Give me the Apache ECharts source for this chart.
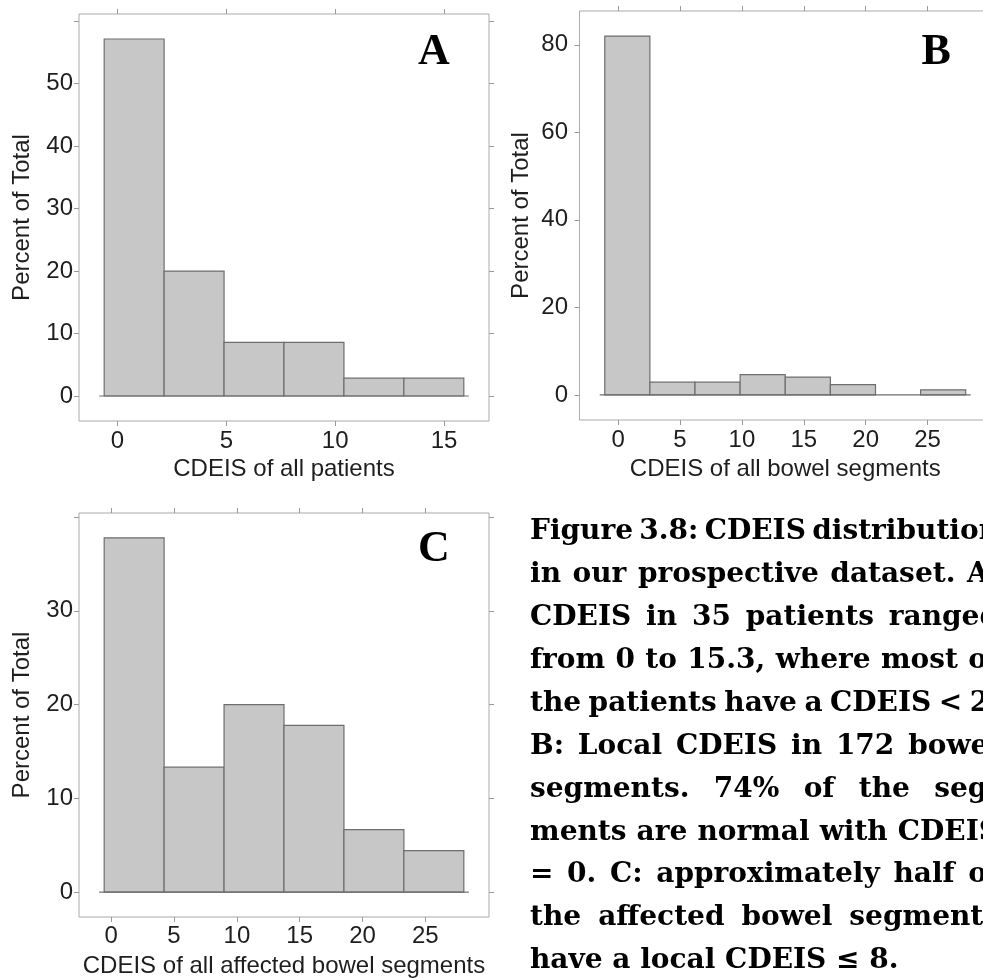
<!DOCTYPE html>
<html><head><meta charset="utf-8">
<script src="https://cdn.jsdelivr.net/npm/echarts@6/dist/echarts.min.js"></script>
<style>html,body{margin:0;padding:0;background:#fff}#c{width:983px;height:978px}</style>
</head><body><div id="c"></div>
<script>
// ---------- DATA ----------
// Panel A: CDEIS of all patients (35 patients), percent of total per bin
const binEdgesA = [-0.612, 2.142, 4.896, 7.65, 10.404, 13.158, 15.912];
const percentA  = [57.14, 20.00, 8.57, 8.57, 2.86, 2.86];
const xTicksA   = [0, 5, 10, 15];
const yLabelsA  = [0, 10, 20, 30, 40, 50];
const yTicksA   = [0, 10, 20, 30, 40, 50, 60];

// Panel B: CDEIS of all bowel segments (172 segments)
const binEdgesB = [-1.08, 2.565, 6.21, 9.855, 13.5, 17.145, 20.79, 24.435, 28.08];
const percentB  = [81.98, 2.91, 2.91, 4.65, 4.07, 2.33, 0, 1.16];
const xTicksB   = [0, 5, 10, 15, 20, 25];
const yLabelsB  = [0, 20, 40, 60, 80];
const yTicksB   = [0, 20, 40, 60, 80];

// Panel C: CDEIS of all affected bowel segments
const binEdgesC = [-0.56, 4.21, 8.98, 13.75, 18.52, 23.29, 28.06];
const percentC  = [37.78, 13.33, 20.00, 17.78, 6.67, 4.44];
const xTicksC   = [0, 5, 10, 15, 20, 25];
const yLabelsC  = [0, 10, 20, 30];
const yTicksC   = [0, 10, 20, 30, 40];

const panelLetters = ['A', 'B', 'C'];
const xTitles = ['CDEIS of all patients', 'CDEIS of all bowel segments', 'CDEIS of all affected bowel segments'];
const yTitle = 'Percent of Total';

const captionLines = [
  'Figure 3.8: CDEIS distribution',
  'in our prospective dataset. A:',
  'CDEIS in 35 patients ranged',
  'from 0 to 15.3, where most of',
  'the patients have a CDEIS < 2.',
  'B: Local CDEIS in 172 bowel',
  'segments. 74% of the seg-',
  'ments are normal with CDEIS',
  '= 0. C: approximately half of',
  'the affected bowel segments',
  'have a local CDEIS \u2264 8.'
];

// ---------- STYLE / LAYOUT ----------
const FRAME = '#ababab', TICK = '#9a9a9a', BAR_FILL = '#c7c7c7', BAR_EDGE = '#6e6e6e', TXT = '#1e1e1e';
const SANS = '"Liberation Sans", Arial, sans-serif';

const panels = [
  {edges: binEdgesA, vals: percentA, xt: xTicksA, yl: yLabelsA, yt: yTicksA,
   grid: {left: 79, top: 14, width: 410, height: 407}, xMargin: 8, yMargin: 6, xGap: 36, yGap: 44.5},
  {edges: binEdgesB, vals: percentB, xt: xTicksB, yl: yLabelsB, yt: yTicksB,
   grid: {left: 579.5, top: 11, width: 411.5, height: 409}, xMargin: 8, yMargin: 11.5, xGap: 37, yGap: 46},
  {edges: binEdgesC, vals: percentC, xt: xTicksC, yl: yLabelsC, yt: yTicksC,
   grid: {left: 79, top: 513, width: 410, height: 404}, xMargin: 7, yMargin: 6, xGap: 37, yGap: 44.5}
];

function ext(lo, hi, f) { const d = (hi - lo) * f; return [lo - d, hi + d]; }

const grids = [], xAxes = [], yAxes = [], series = [];
panels.forEach((p, i) => {
  grids.push(Object.assign({show: true, borderColor: FRAME, borderWidth: 1, backgroundColor: 'transparent', outerBoundsMode: 'none', containLabel: false}, p.grid));
  const xl = ext(p.edges[0], p.edges[p.edges.length - 1], 0.07);
  const yl = ext(0, Math.max.apply(null, p.vals), 0.07);
  const tickStyle = {show: true, inside: false, length: 5, lineStyle: {color: TICK, width: 1}};
  const base = {type: 'value', gridIndex: i, splitLine: {show: false}, axisLine: {show: false, onZero: false}};
  xAxes.push(Object.assign({}, base, {position: 'bottom', min: xl[0], max: xl[1],
    axisTick: Object.assign({customValues: p.xt}, tickStyle),
    axisLabel: {customValues: p.xt, margin: p.xMargin, fontSize: 24, fontFamily: SANS, color: TXT},
    name: xTitles[i], nameLocation: 'middle', nameGap: p.xGap,
    nameTextStyle: {fontSize: 24, fontFamily: SANS, color: TXT}}));
  xAxes.push(Object.assign({}, base, {position: 'top', min: xl[0], max: xl[1],
    axisTick: Object.assign({customValues: p.xt}, tickStyle), axisLabel: {show: false}}));
  yAxes.push(Object.assign({}, base, {position: 'left', min: yl[0], max: yl[1],
    axisTick: Object.assign({customValues: p.yt}, tickStyle),
    axisLabel: {customValues: p.yl, margin: p.yMargin, fontSize: 24, fontFamily: SANS, color: TXT},
    name: yTitle, nameLocation: 'middle', nameGap: p.yGap,
    nameTextStyle: {fontSize: 24, fontFamily: SANS, color: TXT}}));
  yAxes.push(Object.assign({}, base, {position: 'right', min: yl[0], max: yl[1],
    axisTick: Object.assign({customValues: p.yt}, tickStyle), axisLabel: {show: false}}));

  // histogram bars
  series.push({
    type: 'custom', xAxisIndex: 2 * i, yAxisIndex: 2 * i, silent: true,
    data: p.vals.map((v, k) => [p.edges[k], p.edges[k + 1], v]),
    renderItem: function (params, api) {
      const v = api.value(2);
      if (!(v > 0)) return null;
      const a = api.coord([api.value(0), v]);
      const b = api.coord([api.value(1), 0]);
      return {type: 'rect', shape: {x: a[0], y: a[1], width: b[0] - a[0], height: b[1] - a[1]},
        style: {fill: BAR_FILL, stroke: BAR_EDGE, lineWidth: 1.2}};
    }
  });
  // baseline at 0 under the bars
  series.push({
    type: 'custom', xAxisIndex: 2 * i, yAxisIndex: 2 * i, silent: true,
    data: [[p.edges[0], p.edges[p.edges.length - 1]]],
    renderItem: function (params, api) {
      const a = api.coord([api.value(0), 0]);
      const b = api.coord([api.value(1), 0]);
      return {type: 'line', shape: {x1: a[0] - 5, y1: a[1], x2: b[0] + 5, y2: b[1]},
        style: {stroke: BAR_EDGE, lineWidth: 1.2}};
    }
  });
});

// ---------- graphic text: panel letters & justified caption ----------
const graphics = [];
const letterPos = [[418, 53], [921.5, 53], [418, 550]];
panelLetters.forEach((L, i) => {
  graphics.push({type: 'text', x: letterPos[i][0], y: letterPos[i][1], silent: true,
    style: {text: L, font: 'bold 44px "Liberation Serif", "Times New Roman", serif', fill: '#000',
      align: 'left', verticalAlign: 'middle'}});
});

const CAP_FONT = 'bold 28px "DejaVu Serif", serif';
const capLeft = 530, capRight = 999, capTop = 532, capStep = 42.9;
const mctx = document.createElement('canvas').getContext('2d');
mctx.font = CAP_FONT;
captionLines.forEach((line, li) => {
  const words = line.split(' ');
  const widths = words.map(w => mctx.measureText(w).width);
  const total = widths.reduce((s, w) => s + w, 0);
  const last = li === captionLines.length - 1;
  const gap = last || words.length < 2 ? mctx.measureText(' ').width
    : (capRight - capLeft - total) / (words.length - 1);
  let x = capLeft;
  words.forEach((w, k) => {
    graphics.push({type: 'text', x: x, y: capTop + li * capStep, silent: true,
      style: {text: w, font: CAP_FONT, fill: '#000', align: 'left', verticalAlign: 'middle'}});
    x += widths[k] + gap;
  });
});

const chart = echarts.init(document.getElementById('c'), null, {renderer: 'canvas'});
chart.setOption({
  animation: false,
  backgroundColor: '#ffffff',
  grid: grids, xAxis: xAxes, yAxis: yAxes, series: series,
  graphic: graphics
});
</script></body></html>
